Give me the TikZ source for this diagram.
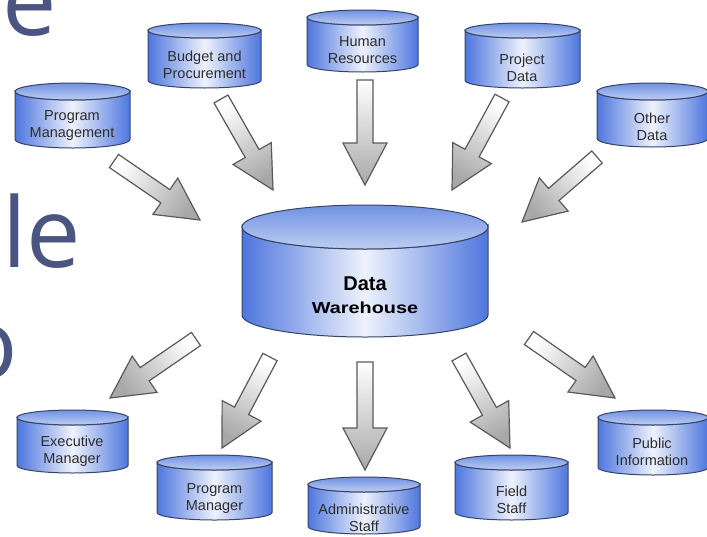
\documentclass[tikz,border=0pt]{standalone}
\usepackage{fontspec}
\usepackage{graphicx}
\setmainfont{Liberation Sans}
\newfontfamily\bigfont{Open Sans}
\usetikzlibrary{calc}
\definecolor{cylside}{RGB}{78,118,222}
\definecolor{cylmid}{RGB}{238,242,252}
\definecolor{cyltopa}{RGB}{112,145,228}
\definecolor{cyltopb}{RGB}{190,206,242}
\definecolor{cylline}{RGB}{55,68,100}
\definecolor{arrline}{RGB}{90,90,90}
\definecolor{arrdark}{RGB}{168,168,168}
\definecolor{bigtext}{RGB}{74,85,129}
\definecolor{lbl}{RGB}{45,45,45}
\tikzset{
  cylbody/.style={left color=cylside, right color=cylside, middle color=cylmid, draw=cylline, line width=1pt},
  cyltop/.style={top color=cyltopa, bottom color=cyltopb, draw=cylline, line width=1pt},
  lbltext/.style={font=\fontsize{14.5}{16.5}\selectfont, text=lbl, align=center, anchor=base, inner sep=0pt},
  dwtext/.style={font=\bfseries, text=black, align=center, anchor=base, inner sep=0pt},
  blockarrow/.style={draw=arrline, line width=1.2pt, top color=white, bottom color=arrdark, line join=miter},
  bigletters/.style={font=\bigfont\fontsize{97}{97}\selectfont, text=bigtext, anchor=base west, inner sep=0pt},
}
\newcommand\dbcyl[5][7.5]{%
  \pgfmathsetmacro\cxa{(#2+#3)/2}%
  \pgfmathsetmacro\cra{(#3-#2)/2}%
  \pgfmathsetmacro\cyt{#4+#1}%
  \pgfmathsetmacro\cyb{#5-#1}%
  \path[cylbody] (#2,\cyt) -- (#2,\cyb) arc[start angle=180,end angle=360,x radius=\cra pt,y radius=#1 pt] -- (#3,\cyt) arc[start angle=0,end angle=-180,x radius=\cra pt,y radius=#1 pt] -- cycle;
  \path[cyltop] (\cxa,\cyt) ellipse[x radius=\cra pt, y radius=#1 pt];
}
\newcommand\blockarr[2]{%
  \path let \p1=(#1), \p2=(#2) in
    \pgfextra{\pgfmathsetmacro\tmpang{atan2(\y2-\y1,\x2-\x1)}%
              \pgfmathsetmacro\tmplen{veclen(\x2-\x1,\y2-\y1)}%
              \xdef\barang{\tmpang}\xdef\barlen{\tmplen}};
  \pgfmathsetmacro\barsh{\barang+90}%
  \pgfmathsetmacro\barbody{\barlen-42}%
  \path[blockarrow, shading angle=\barsh]
    ($(#1)+(\barang+90:8pt)$) -- ++(\barang:\barbody pt) -- ++(\barang+90:14pt) -- (#2)
    -- ($(#1)+(\barang:\barbody pt)+(\barang-90:22pt)$) -- ++(\barang+90:14pt)
    -- ($(#1)+(\barang-90:8pt)$) -- cycle;
}
\begin{document}
\begin{tikzpicture}[x=1pt,y=-1pt]
\useasboundingbox (0,0) rectangle (707,536);
\begin{scope}
\clip (0,0) rectangle (707,536);
\fill[white] (0,0) rectangle (707,536);
% large background letters
\node[bigletters] (bige) at (2,35) {e};
\node[bigletters] (bigle) at (2,267) {le};
\node[bigletters] (bigo) at (-41,378) {o};
% cylinders
\dbcyl[8.5]{15}{130}{83}{148}
\dbcyl{148}{261}{23}{88}
\dbcyl{307}{418}{10}{72}
\dbcyl{465}{580}{23}{88}
\dbcyl[8.5]{597}{708}{83}{147}
\dbcyl[22]{242}{488}{205}{337}
\dbcyl{17}{128}{410}{473}
\dbcyl{157}{272}{455}{520}
\dbcyl{308}{420}{477}{534}
\dbcyl{455}{568}{455}{520}
\dbcyl{598}{708}{410}{475}
% labels (anchor = baseline of the last line)
\node[lbltext] (pm)  at (72,137)    {Program\\Management};
\node[lbltext] (bud) at (204.5,78)  {Budget and\\Procurement};
\node[lbltext] (hr)  at (362.5,63)  {Human\\Resources};
\node[lbltext] (prj) at (522,81)    {Project\\Data};
\node[lbltext] (oth) at (652,140)   {Other\\Data};
\node[dwtext]  (dw)  at (365,290)   {\fontsize{20}{20}\selectfont Data};
\node[dwtext]  (dw2) at (365,313)   {\fontsize{16}{16}\selectfont\scalebox{1.24}[1]{Warehouse}};
\node[lbltext] (ex)  at (72,463)    {Executive\\Manager};
\node[lbltext] (pmg) at (214.5,510) {Program\\Manager};
\node[lbltext] (adm) at (364,531)   {Administrative\\Staff};
\node[lbltext] (fld) at (511.5,513) {Field\\Staff};
\node[lbltext] (pub) at (652,465)   {Public\\Information};
% arrow end points
\coordinate (t1) at (114,161);  \coordinate (h1) at (200,220);
\coordinate (t2) at (221,99);   \coordinate (h2) at (273,190);
\coordinate (t3) at (365,80);   \coordinate (h3) at (365,185);
\coordinate (t4) at (502,98);   \coordinate (h4) at (452,190);
\coordinate (t5) at (597,157);  \coordinate (h5) at (522,222);
\coordinate (t6) at (196,339);  \coordinate (h6) at (110,398);
\coordinate (t7) at (270,357);  \coordinate (h7) at (222,448);
\coordinate (t8) at (365,362);  \coordinate (h8) at (365,470);
\coordinate (t9) at (459,357);  \coordinate (h9) at (510,448);
\coordinate (t10) at (529,338); \coordinate (h10) at (615,398);
\blockarr{t1}{h1}
\blockarr{t2}{h2}
\blockarr{t3}{h3}
\blockarr{t4}{h4}
\blockarr{t5}{h5}
\blockarr{t6}{h6}
\blockarr{t7}{h7}
\blockarr{t8}{h8}
\blockarr{t9}{h9}
\blockarr{t10}{h10}
\end{scope}
\end{tikzpicture}
\end{document}
